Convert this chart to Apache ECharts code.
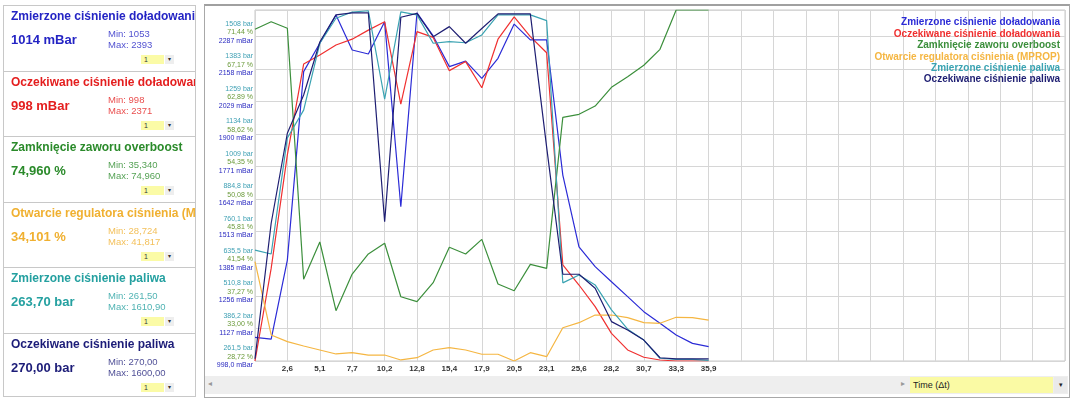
<!DOCTYPE html>
<html>
<head>
<meta charset="utf-8">
<script src="https://cdn.jsdelivr.net/npm/echarts@6/dist/echarts.min.js"></script>
<style>
  html, body { margin:0; padding:0; width:1074px; height:398px; background:#fff; overflow:hidden; font-family:"Liberation Sans", Arial, sans-serif; }
  #frame { position:absolute; left:204px; top:4px; width:864px; height:391px; border:1px solid #a8a8a8; border-top:2px solid #a0a0a0; box-sizing:content-box; }
  #chart { position:absolute; left:0; top:0; width:1074px; height:398px; }
  #panel { position:absolute; left:3px; top:5px; width:191px; height:391px; border:1px solid #c8c8c8; border-top:none; overflow:hidden; }
  .box { position:absolute; left:0; width:191px; height:65px; border-top:1px solid #c8c8c8; overflow:hidden; }
  .ttl { position:absolute; left:7px; top:3px; font-weight:bold; font-size:12px; white-space:nowrap; }
  .val { position:absolute; left:7px; top:26px; font-weight:bold; font-size:13px; white-space:nowrap; }
  .mm { position:absolute; left:104px; top:22px; font-size:9.5px; line-height:11px; white-space:nowrap; }
  .dd { position:absolute; left:137px; top:49px; width:23px; height:9px; background:#fbfba6; font-size:7px; line-height:9px; padding-left:3px; color:#333; box-sizing:border-box; }
  .dda { position:absolute; left:161px; top:49px; width:9px; height:9px; background:#eee; font-size:6px; line-height:9px; text-align:center; color:#333; }
  #strip { position:absolute; left:205px; top:376px; width:863px; height:18px; background:#eeeeee; }
  #larr { position:absolute; left:208px; top:379px; font-size:8px; color:#999; }
  #rarr { position:absolute; left:901px; top:379px; font-size:8px; color:#999; }
  #tbox { position:absolute; left:910px; top:377px; width:143px; height:16px; background:#fafaa4; font-size:9px; line-height:16px; padding-left:3px; box-sizing:border-box; color:#222; }
  #tarr { position:absolute; left:1054px; top:377px; width:13px; height:16px; background:#eaeaea; font-size:7px; line-height:16px; text-align:center; color:#222; }
</style>
</head>
<body>
<div id="frame"></div>
<div id="chart"></div>
<div id="panel"></div>
<div id="strip"></div>
<div id="larr">◂</div>
<div id="rarr">▸</div>
<div id="tbox">Time (Δt)</div>
<div id="tarr">▾</div>
<script>
// ---- data ----
const seriesNames = [
  'Zmierzone ciśnienie doładowania',
  'Oczekiwane ciśnienie doładowania',
  'Zamknięcie zaworu overboost',
  'Otwarcie regulatora ciśnienia (MPROP)',
  'Zmierzone ciśnienie paliwa',
  'Oczekiwane ciśnienie paliwa'
];
const seriesColors = ['#2b2bd6', '#f03030', '#3c8f3c', '#f5b642', '#3aa3b2', '#1e1e72'];
const panelTitleColors = ['#2424c4', '#e41e1e', '#2a8a2a', '#f0b030', '#24a0a0', '#1c1c78'];
const panelValues = ['1014 mBar', '998 mBar', '74,960 %', '34,101 %', '263,70 bar', '270,00 bar'];
const panelMins = ['1053', '998', '35,340', '28,724', '261,50', '270,00'];
const panelMaxs = ['2393', '2371', '74,960', '41,817', '1610,90', '1600,00'];

const times = [0, 1.28, 2.56, 3.85, 5.13, 6.41, 7.69, 8.97, 10.26, 11.54, 12.82, 14.10, 15.38, 16.67, 17.95,
  19.23, 20.51, 21.79, 23.08, 24.36, 25.64, 26.92, 28.21, 29.49, 30.77, 32.05, 33.33, 34.62, 35.90];

const measuredBoost = [1092, 1085, 1399, 2148, 2261, 2373, 2234, 2218, 2346, 1611, 2382, 2290, 2168, 2190, 2121,
  2201, 2337, 2274, 2274, 1737, 1452, 1373, 1313, 1254, 1194, 1148, 1101, 1068, 1055];
const expectedBoost = [998, 1366, 1817, 2178, 2214, 2254, 2277, 2313, 2346, 2019, 2307, 2284, 2152, 2188, 2084,
  2277, 2366, 2287, 2223, 1380, 1300, 1214, 1108, 1042, 1013, 1002, 998, 998, 998];
const overboost = [72.42, 73.42, 72.55, 39.49, 44.40, 35.35, 40.18, 42.82, 44.23, 37.19, 36.54, 39.04, 43.70, 42.82, 44.75,
  38.87, 37.98, 41.46, 40.93, 60.82, 61.22, 62.31, 64.78, 66.17, 67.68, 69.78, 74.96, 74.96, 74.96];
const mprop = [41.817, 32.15, 31.27, 30.70, 30.17, 29.65, 29.82, 29.51, 29.51, 28.86, 29.16, 30.17, 30.48, 30.17, 29.61,
  29.61, 28.724, 29.82, 29.29, 33.11, 33.77, 34.78, 34.78, 34.43, 33.77, 33.69, 34.48, 34.43, 34.10];
const measuredFuel = [688, 673, 1119, 1226, 1483, 1579, 1603, 1608, 1268, 1604, 1592, 1483, 1489, 1485, 1515,
  1592, 1592, 1592, 1570, 562, 592, 554, 458, 384, 342, 272, 268, 268, 264];
const expectedFuel = [270, 791, 1137, 1284, 1488, 1592, 1600, 1600, 797, 1583, 1598, 1508, 1547, 1483, 1540,
  1596, 1596, 1596, 1084, 595, 595, 541, 413, 381, 342, 274, 270, 270, 270];

// axis ranges (per unit)
const mbarRange = [998, 2393];
const pctRange = [28.724, 74.96];
const barRange = [261.5, 1610.9];

// tick labels
const xTickLabels = ['2,6', '5,1', '7,7', '10,2', '12,8', '15,4', '17,9', '20,5', '23,1', '25,6', '28,2', '30,7', '33,3', '35,9'];
const yBarLabels = ['261,5 bar', '386,2 bar', '510,8 bar', '635,5 bar', '760,1 bar', '884,8 bar', '1009 bar', '1134 bar', '1259 bar', '1383 bar', '1508 bar'];
const yPctLabels = ['28,72 %', '33,00 %', '37,27 %', '41,54 %', '45,81 %', '50,08 %', '54,35 %', '58,62 %', '62,89 %', '67,17 %', '71,44 %'];
const yMbarLabels = ['998,0 mBar', '1127 mBar', '1256 mBar', '1385 mBar', '1513 mBar', '1642 mBar', '1771 mBar', '1900 mBar', '2029 mBar', '2158 mBar', '2287 mBar'];

// ---- left panel ----
const panel = document.getElementById('panel');
for (let i = 0; i < seriesNames.length; i++) {
  const b = document.createElement('div');
  b.className = 'box';
  b.style.top = (i * 65.6) + 'px';
  const c = panelTitleColors[i];
  b.innerHTML =
    '<div class="ttl" style="color:' + c + '">' + seriesNames[i] + '</div>' +
    '<div class="val" style="color:' + c + '">' + panelValues[i] + '</div>' +
    '<div class="mm" style="color:' + c + ';opacity:0.8">Min: ' + panelMins[i] + '<br>Max: ' + panelMaxs[i] + '</div>' +
    '<div class="dd">1</div><div class="dda">▾</div>';
  panel.appendChild(b);
}

// ---- chart ----
const chart = echarts.init(document.getElementById('chart'), null, { renderer: 'canvas' });
const allData = [measuredBoost, expectedBoost, overboost, mprop, measuredFuel, expectedFuel];
const axisFor = [1, 1, 2, 2, 3, 3];
const series = allData.map((arr, i) => ({
  name: seriesNames[i],
  type: 'line',
  xAxisIndex: 0,
  yAxisIndex: axisFor[i],
  showSymbol: false,
  symbol: 'none',
  silent: true,
  animation: false,
  lineStyle: { width: 1.2, color: seriesColors[i] },
  itemStyle: { color: seriesColors[i] },
  data: arr.map((v, k) => [times[k], v])
}));

const tickCount = (2393 - 998) / 128.9; // grid units

chart.setOption({
  animation: false,
  grid: { left: 255, right: 9, top: 10, bottom: 37, show: true, borderColor: '#c9c9c9', borderWidth: 1 },
  legend: {
    orient: 'vertical', right: 3, top: 12, align: 'right',
    itemWidth: 0, itemHeight: 0, itemGap: 0,
    selectedMode: false,
    itemStyle: { opacity: 0 }, lineStyle: { opacity: 0 },
    textStyle: { fontWeight: 'bold', fontSize: 10, lineHeight: 11.4, fontFamily: 'Liberation Sans, Arial, sans-serif' },
    data: seriesNames.map((n, i) => ({ name: n, textStyle: { color: seriesColors[i] } }))
  },
  xAxis: [{
    type: 'value', min: 0, max: 64.1025, interval: 2.5641,
    axisLine: { show: false }, axisTick: { show: false },
    splitLine: { show: true, lineStyle: { color: '#d6d6d6', width: 1 } },
    axisLabel: {
      show: true, margin: 4, fontSize: 8, fontWeight: 'bold', color: '#333',
      fontFamily: 'Liberation Sans, Arial, sans-serif',
      showMinLabel: true, showMaxLabel: true, hideOverlap: false,
      formatter: (v) => { const k = Math.round(v / 2.5641); return (k >= 1 && k <= xTickLabels.length) ? xTickLabels[k - 1] : ''; }
    }
  }],
  yAxis: [
    {
      type: 'value', min: 0, max: tickCount, interval: 1,
      axisLine: { show: false }, axisTick: { show: false },
      splitLine: { show: true, lineStyle: { color: '#d6d6d6', width: 1 } },
      axisLabel: {
        show: true, margin: 2, showMaxLabel: false, hideOverlap: false,
        formatter: (v) => {
          const k = Math.round(v);
          if (Math.abs(v - k) > 0.01 || k < 0 || k >= yMbarLabels.length) return '';
          return '{b|' + yBarLabels[k] + '}\n{p|' + yPctLabels[k] + '}\n{m|' + yMbarLabels[k] + '}\n{e| }';
        },
        rich: {
          b: { color: '#3d9fb3', fontSize: 7, lineHeight: 8.4, align: 'right', fontFamily: 'Liberation Sans, Arial, sans-serif' },
          p: { color: '#6a9a3a', fontSize: 7, lineHeight: 8.4, align: 'right', fontFamily: 'Liberation Sans, Arial, sans-serif' },
          m: { color: '#2a2ac0', fontSize: 7, lineHeight: 8.4, align: 'right', fontFamily: 'Liberation Sans, Arial, sans-serif' },
          e: { fontSize: 7, lineHeight: 8.4 }
        }
      }
    },
    { type: 'value', min: mbarRange[0], max: mbarRange[1], show: false, splitLine: { show: false } },
    { type: 'value', min: pctRange[0], max: pctRange[1], show: false, splitLine: { show: false } },
    { type: 'value', min: barRange[0], max: barRange[1], show: false, splitLine: { show: false } }
  ],
  series: series
});
</script>
</body>
</html>
